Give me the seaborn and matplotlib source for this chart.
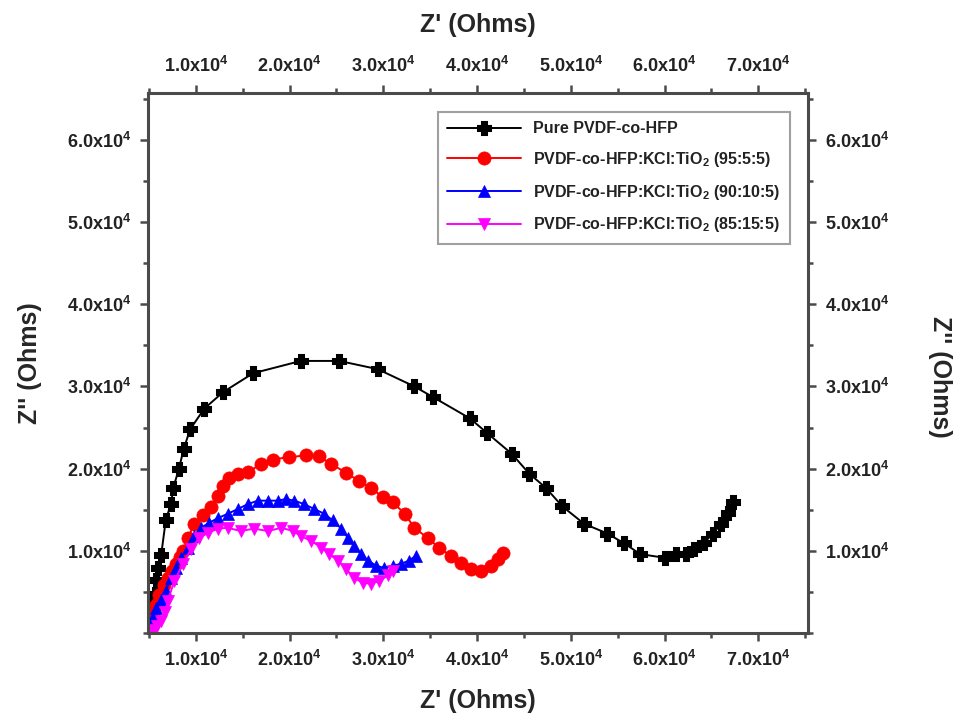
import matplotlib
matplotlib.use("Agg")
import matplotlib.pyplot as plt
import seaborn as sns
import numpy as np
import pandas as pd
from matplotlib.ticker import FuncFormatter, MultipleLocator, FixedLocator

# ---------------- data ----------------
series_names = [
    "Pure PVDF-co-HFP",
    "PVDF-co-HFP:KCl:TiO$_2$ (95:5:5)",
    "PVDF-co-HFP:KCl:TiO$_2$ (90:10:5)",
    "PVDF-co-HFP:KCl:TiO$_2$ (85:15:5)",
]

pure_x = [5300, 5450, 5600, 5800, 6000, 6300, 6800, 7350, 7600, 8200, 8700, 9400,
          10900, 12900, 16100, 21200, 25300, 29400, 33300, 35300, 39250, 41100,
          43700, 45550, 47300, 49100, 51400, 53900, 55700, 57400, 60000, 61200,
          62300, 63150, 64200, 65200, 66000, 66800, 67300]
pure_y = [2000, 3500, 4800, 6500, 7900, 9500, 13800, 15700, 17700, 20000, 22400, 24800,
          27300, 29300, 31600, 33100, 33100, 32100, 30000, 28700, 26100, 24300,
          21800, 19400, 17700, 15400, 13300, 12100, 10900, 9600, 9150, 9640,
          9640, 10250, 11000, 12100, 13300, 14600, 15900]

s95_x = [5100, 5200, 5400, 5700, 6100, 6600, 7000, 7500, 7900, 8300, 8600, 9200, 9800,
         10800, 11600, 12400, 12900, 13500, 14500, 15600, 17000, 18200, 19900, 21800,
         23100, 24400, 26000, 27400, 28700, 30000, 31000, 32300, 33300, 34800, 35900,
         37200, 38300, 39400, 40400, 41500, 42200, 42800]
s95_y = [300, 1200, 2300, 3400, 4600, 5800, 6700, 7600, 8400, 9300, 10000, 11600, 13300,
         14300, 15300, 16700, 17900, 18800, 19400, 19600, 20600, 21100, 21400, 21600,
         21500, 20600, 19500, 18500, 17600, 16500, 15900, 14500, 12800, 11500, 10400,
         9400, 8500, 7800, 7600, 8200, 9000, 9700]

s90_x = [5100, 5300, 5500, 5800, 6300, 6800, 7350, 7900, 8400, 9200, 9800, 10550, 11400,
         12400, 13400, 14500, 15600, 16600, 17700, 18800, 19600, 20500, 21500, 22600,
         23700, 24600, 25500, 26200, 26900, 27600, 28400, 29200, 30100, 31000, 31900,
         32700, 33500]
s90_y = [500, 1400, 2200, 3000, 4000, 5100, 6700, 7900, 9150, 10400, 11800, 12800, 13400,
         14000, 14500, 15100, 15700, 16100, 16100, 16100, 16300, 16100, 15700, 15100,
         14500, 13700, 12700, 11600, 10600, 9600, 8800, 8200, 7900, 8200, 8400,
         8800, 9400]

s85_x = [5200, 5500, 5900, 6300, 6700, 7000, 7700, 8600, 9500, 10300, 11300, 12400, 13400,
         14800, 16200, 17700, 19100, 20400, 21200, 22300, 23400, 24200, 25200, 26000,
         26900, 27800, 28700, 29500, 30500, 31000]
s85_y = [200, 400, 800, 1500, 2600, 3900, 6300, 8400, 10200, 11500, 12200, 12700, 12800,
         12400, 12700, 12400, 12800, 12400, 11800, 11200, 10400, 9600, 8800, 7800,
         6700, 6100, 6000, 6300, 7000, 7500]

x_ticks = [10000, 20000, 30000, 40000, 50000, 60000, 70000]
y_ticks = [10000, 20000, 30000, 40000, 50000, 60000]

# ---------------- style ----------------
sns.set_style("ticks")
plt.rcParams["font.family"] = ["Liberation Sans", "DejaVu Sans"]
plt.rcParams["font.weight"] = "bold"
plt.rcParams["mathtext.default"] = "regular"

spine_col = "#4a4a4a"

fig = plt.figure(figsize=(9.57, 7.18), dpi=100)
ax = fig.add_axes([0.1547, 0.1184, 0.6896, 0.7521])

colors = ["#000000", "#ff0000", "#0000ff", "#ff00ff"]
markers = ["P", "o", "^", "v"]
msizes = [9, 9.5, 9, 9]
medge = [2.2, 0.5, 0.5, 0.5]
data = [(pure_x, pure_y), (s95_x, s95_y), (s90_x, s90_y), (s85_x, s85_y)]

for name, (xs, ys), c, m, ms, mew in zip(series_names, data, colors, markers, msizes, medge):
    df = pd.DataFrame({"x": xs, "y": ys})
    sns.lineplot(data=df, x="x", y="y", sort=False, ax=ax, color=c,
                 marker=m, markersize=ms, markeredgecolor=c, markeredgewidth=mew,
                 linewidth=1.4, label=name, estimator=None)

ax.set_xlim(4900, 75300)
ax.set_ylim(0, 65700)

fmt = FuncFormatter(lambda v, p: f"{v/1e4:.1f}x10$^4$")

ax.xaxis.set_major_locator(FixedLocator(x_ticks))
ax.yaxis.set_major_locator(FixedLocator(y_ticks))
ax.xaxis.set_minor_locator(MultipleLocator(5000))
ax.yaxis.set_minor_locator(MultipleLocator(5000))
ax.xaxis.set_major_formatter(fmt)
ax.yaxis.set_major_formatter(fmt)

ax.tick_params(which="both", direction="out", color=spine_col, width=1.8,
               top=True, right=True, bottom=True, left=True,
               labeltop=True, labelright=True, labelbottom=True, labelleft=True)
ax.tick_params(which="major", length=6, labelsize=13, pad=6)
ax.tick_params(which="minor", length=3.5)
for lab in ax.get_xticklabels() + ax.get_yticklabels():
    lab.set_fontweight("bold")
    lab.set_color("#222222")

for sp in ax.spines.values():
    sp.set_color(spine_col)
    sp.set_linewidth(2.2)

ax.set_xlabel("Z' (Ohms)", fontsize=18, fontweight="bold", labelpad=14)
ax.set_ylabel("Z'' (Ohms)", fontsize=18, fontweight="bold", labelpad=18)
fig.text(0.499, 0.965, "Z' (Ohms)", fontsize=18, fontweight="bold",
         ha="center", va="center")
fig.text(0.982, 0.475, "Z'' (Ohms)", fontsize=18, fontweight="bold",
         ha="center", va="center", rotation=270)

leg = ax.legend(loc="upper right", bbox_to_anchor=(0.973, 0.965), borderaxespad=0,
                fancybox=False, frameon=True, handlelength=4.6, handletextpad=0.8,
                labelspacing=0.85, borderpad=0.6, prop={"size": 11.5, "weight": "bold"})
leg.get_frame().set_edgecolor("#888888")
leg.get_frame().set_linewidth(1.5)
for t in leg.get_texts():
    t.set_color("#222222")

fig.savefig("out.png", dpi=100)
